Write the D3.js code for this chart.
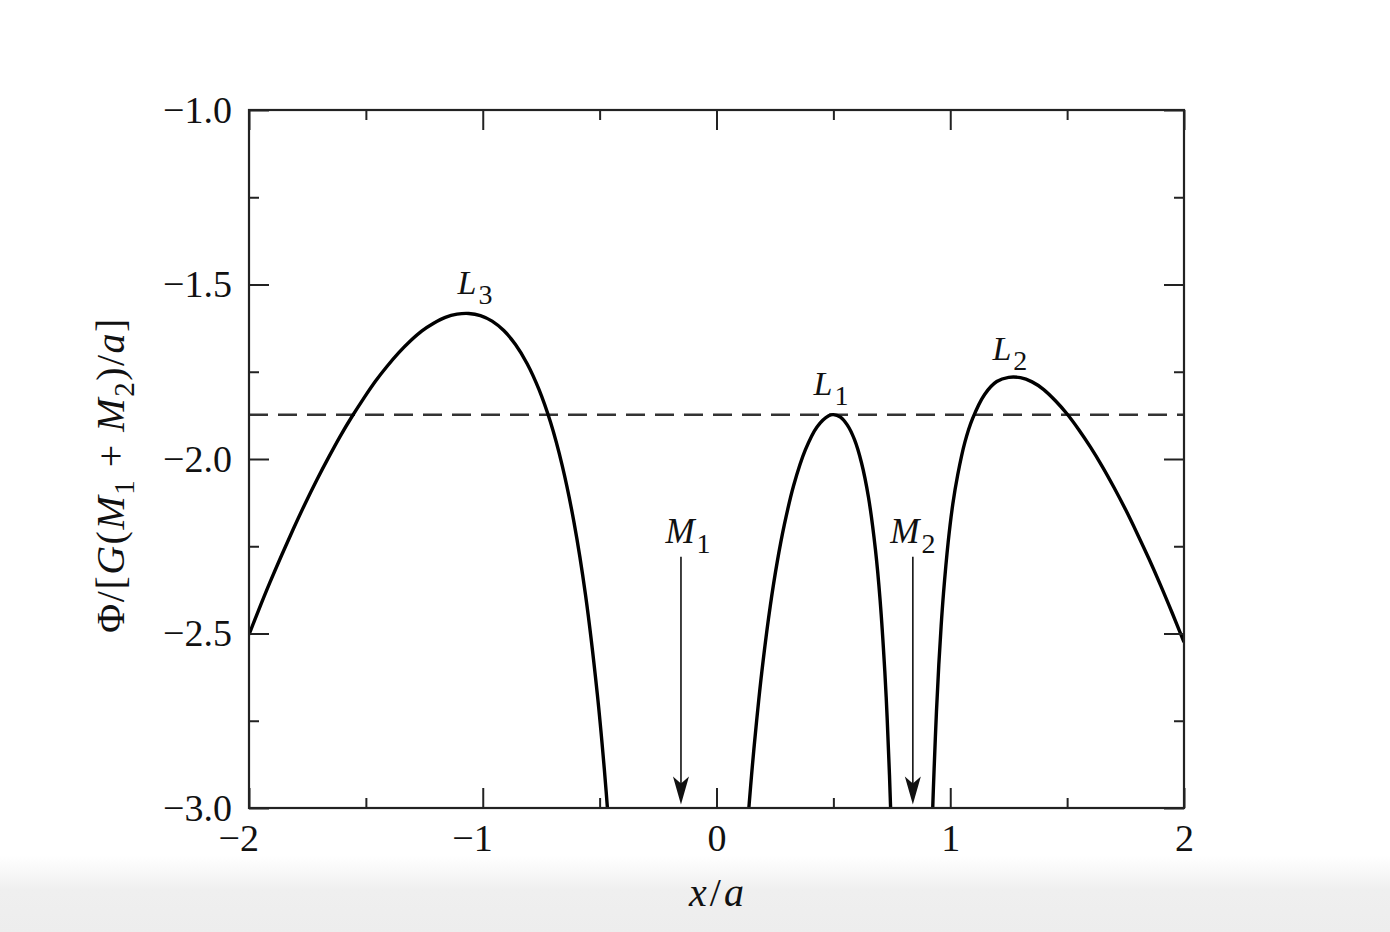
<!DOCTYPE html>
<html>
<head>
<meta charset="utf-8">
<script src="https://cdn.jsdelivr.net/npm/d3@7"></script>
<style>
  body { margin: 0; background: #fff; }
  text { font-family: "Liberation Serif", "Times New Roman", serif; fill: #111; }
</style>
</head>
<body>
<svg id="chart" width="1390" height="932"></svg>
<script>
// ---------------- data ----------------
const xDomain = [-2, 2];
const yDomain = [-3, -1];
const xMajorTicks = [-2, -1, 0, 1, 2];
const xMinorTicks = [-1.5, -0.5, 0.5, 1.5];
const xTickLabels = ["\u22122", "\u22121", "0", "1", "2"];
const yMajorTicks = [-1.0, -1.5, -2.0, -2.5, -3.0];
const yMinorTicks = [-1.25, -1.75, -2.25, -2.75];
const yTickLabels = ["\u22121.0", "\u22121.5", "\u22122.0", "\u22122.5", "\u22123.0"];

// potential curve, three visible lobes: [x/a, Phi]
const lobeL3 = [[-2.00,-2.503],[-1.96,-2.435],[-1.91,-2.353],[-1.86,-2.275],[-1.81,-2.200],[-1.76,-2.128],
  [-1.71,-2.060],[-1.66,-1.996],[-1.61,-1.935],[-1.56,-1.879],[-1.51,-1.827],[-1.46,-1.778],
  [-1.41,-1.735],[-1.36,-1.696],[-1.31,-1.662],[-1.26,-1.633],[-1.21,-1.611],[-1.16,-1.594],
  [-1.11,-1.585],[-1.06,-1.583],[-1.01,-1.589],[-0.96,-1.605],[-0.91,-1.632],[-0.86,-1.672],
  [-0.81,-1.727],[-0.76,-1.800],[-0.71,-1.895],[-0.66,-2.019],[-0.61,-2.180],[-0.56,-2.391],
  [-0.51,-2.673],[-0.48,-2.888],[-0.46,-3.058]];
const lobeL1 = [[0.135,-3.030],[0.14,-2.987],[0.15,-2.906],[0.16,-2.831],[0.18,-2.695],[0.20,-2.575],
  [0.23,-2.421],[0.26,-2.294],[0.29,-2.189],[0.33,-2.076],[0.38,-1.974],[0.43,-1.908],[0.48,-1.876],
  [0.50,-1.873],[0.53,-1.880],[0.56,-1.903],[0.59,-1.944],[0.62,-2.010],[0.65,-2.109],[0.68,-2.260],
  [0.70,-2.405],[0.72,-2.608],[0.73,-2.741],[0.74,-2.905],[0.75,-3.110]];
const lobeL2 = [[0.921,-3.09],[0.926,-2.98],[0.931,-2.888],[0.941,-2.724],[0.951,-2.590],[0.961,-2.479],
  [0.971,-2.386],[0.991,-2.239],[1.011,-2.129],[1.032,-2.045],[1.063,-1.951],[1.095,-1.885],
  [1.147,-1.815],[1.199,-1.778],[1.25,-1.766],[1.30,-1.767],[1.35,-1.779],[1.40,-1.801],[1.45,-1.833],
  [1.50,-1.871],[1.55,-1.916],[1.60,-1.966],[1.65,-2.021],[1.70,-2.081],[1.75,-2.145],[1.80,-2.214],
  [1.85,-2.286],[1.90,-2.362],[1.95,-2.442],[2.00,-2.525]];
const dashedLevel = -1.873;

const massNames = ["M", "M"];
const massSubs = ["1", "2"];
const massX = [-0.152, 0.840];
const arrowTop = -2.28;
const arrowTip = -2.99;
const massLabelX = [-0.122, 0.84];
const massLabelY = -2.241;

const lagNames = ["L", "L", "L"];
const lagSubs = ["3", "1", "2"];
const lagX = [-1.033, 0.49, 1.255];
const lagY = [-1.527, -1.817, -1.716];

(function () {
// ---------------- layout ----------------
const svg = d3.select("#chart");
const W = 1390, H = 932;
const pL = 249, pR = 1184, pT = 110, pB = 808;
const x = d3.scaleLinear(xDomain, [pL, pR]);
const y = d3.scaleLinear(yDomain, [pB, pT]);
const FS = 38;

// bottom gray band
const defs = svg.append("defs");
const grad = defs.append("linearGradient").attr("id", "band").attr("x1", 0).attr("y1", 0).attr("x2", 0).attr("y2", 1);
grad.append("stop").attr("offset", "0").attr("stop-color", "#ffffff");
grad.append("stop").attr("offset", "0.45").attr("stop-color", "#efefef");
grad.append("stop").attr("offset", "1").attr("stop-color", "#ededed");
svg.append("rect").attr("x", 0).attr("y", 856).attr("width", W).attr("height", H - 856).attr("fill", "url(#band)");

defs.append("clipPath").attr("id", "plotclip").append("rect")
  .attr("x", pL).attr("y", pT).attr("width", pR - pL).attr("height", pB - pT);

// dashed level
svg.append("line")
  .attr("x1", x(xDomain[0])).attr("x2", x(xDomain[1]))
  .attr("y1", y(dashedLevel)).attr("y2", y(dashedLevel))
  .attr("stroke", "#333").attr("stroke-width", 2.4).attr("stroke-dasharray", "19,10");

// curves
const line = d3.line().x(d => x(d[0])).y(d => y(d[1])).curve(d3.curveCatmullRom.alpha(0.5));
const gCurves = svg.append("g").attr("clip-path", "url(#plotclip)");
[lobeL3, lobeL1, lobeL2].forEach(seg => {
  gCurves.append("path").attr("d", line(seg)).attr("fill", "none")
    .attr("stroke", "#000").attr("stroke-width", 3.4).attr("stroke-linejoin", "round");
});

// axes ticks (inward, mirrored)
function styleAxis(g) {
  g.select(".domain").remove();
  g.selectAll(".tick line").attr("stroke", "#222").attr("stroke-width", 2);
  g.selectAll("text").attr("font-family", "Liberation Serif").attr("font-size", FS).attr("fill", "#111");
}
const bx = svg.append("g").attr("transform", `translate(0,${pB})`)
  .call(d3.axisBottom(x).tickValues(xMajorTicks).tickSizeInner(-20).tickSizeOuter(0).tickPadding(16)
    .tickFormat((d, i) => xTickLabels[i]));
styleAxis(bx);
const probe = svg.append("text").attr("font-family", "Liberation Serif").attr("font-size", FS).text("\u2212");
const minusW = probe.node().getComputedTextLength();
probe.remove();
bx.selectAll(".tick text").each(function (d) {
  if (d < 0) d3.select(this).attr("dx", -minusW / 2);
});
const bxm = svg.append("g").attr("transform", `translate(0,${pB})`)
  .call(d3.axisBottom(x).tickValues(xMinorTicks).tickSizeInner(-10).tickSizeOuter(0).tickFormat(""));
styleAxis(bxm);
const tx = svg.append("g").attr("transform", `translate(0,${pT})`)
  .call(d3.axisTop(x).tickValues(xMajorTicks).tickSizeInner(-20).tickSizeOuter(0).tickFormat(""));
styleAxis(tx);
const txm = svg.append("g").attr("transform", `translate(0,${pT})`)
  .call(d3.axisTop(x).tickValues(xMinorTicks).tickSizeInner(-10).tickSizeOuter(0).tickFormat(""));
styleAxis(txm);

const ly = svg.append("g").attr("transform", `translate(${pL},0)`)
  .call(d3.axisLeft(y).tickValues(yMajorTicks).tickSizeInner(-20).tickSizeOuter(0).tickPadding(17)
    .tickFormat((d, i) => yTickLabels[i]));
styleAxis(ly);
const lym = svg.append("g").attr("transform", `translate(${pL},0)`)
  .call(d3.axisLeft(y).tickValues(yMinorTicks).tickSizeInner(-10).tickSizeOuter(0).tickFormat(""));
styleAxis(lym);
const ry = svg.append("g").attr("transform", `translate(${pR},0)`)
  .call(d3.axisRight(y).tickValues(yMajorTicks).tickSizeInner(-20).tickSizeOuter(0).tickFormat(""));
styleAxis(ry);
const rym = svg.append("g").attr("transform", `translate(${pR},0)`)
  .call(d3.axisRight(y).tickValues(yMinorTicks).tickSizeInner(-10).tickSizeOuter(0).tickFormat(""));
styleAxis(rym);

// frame
svg.append("rect").attr("x", pL).attr("y", pT).attr("width", pR - pL).attr("height", pB - pT)
  .attr("fill", "none").attr("stroke", "#222").attr("stroke-width", 2.2);

// arrows for the masses
massX.forEach((mx, i) => {
  const px = x(mx), y0 = y(arrowTop), y1 = y(arrowTip);
  svg.append("line").attr("x1", px).attr("x2", px).attr("y1", y0).attr("y2", y1 - 10)
    .attr("stroke", "#111").attr("stroke-width", 1.6);
  svg.append("path")
    .attr("d", `M${px},${y1} L${px - 8},${y1 - 28} L${px},${y1 - 21} L${px + 8},${y1 - 28} Z`)
    .attr("fill", "#111");
});

// label helper: italic letter + upright subscript
function subLabel(px, py, main, sub, fs, subfs) {
  const t = svg.append("text").attr("x", px).attr("y", py).attr("text-anchor", "middle").attr("font-size", fs);
  t.append("tspan").attr("font-style", "italic").text(main);
  t.append("tspan").attr("font-size", subfs).attr("dy", 10).attr("dx", 2).text(sub);
  return t;
}
massX.forEach((mx, i) => subLabel(x(massLabelX[i]), y(massLabelY), massNames[i], massSubs[i], 35, 28));
lagX.forEach((lx, i) => subLabel(x(lx), y(lagY[i]), lagNames[i], lagSubs[i], 34, 28));

// axis titles
const xt = svg.append("text").attr("x", x(0)).attr("y", 906).attr("text-anchor", "middle").attr("font-size", 40);
xt.append("tspan").attr("font-style", "italic").text("x");
xt.append("tspan").attr("dx", 3).text("/");
xt.append("tspan").attr("dx", 3).attr("font-style", "italic").text("a");

const yt = svg.append("text").attr("transform", "translate(124,475) rotate(-90)")
  .attr("text-anchor", "middle").attr("font-size", 40).attr("letter-spacing", 1.5);
yt.append("tspan").text("\u03A6/[");
yt.append("tspan").attr("font-style", "italic").text("G");
yt.append("tspan").text("(");
yt.append("tspan").attr("font-style", "italic").text("M");
yt.append("tspan").attr("font-size", 29).attr("dy", 10).text("1");
yt.append("tspan").attr("dy", -10).text(" + ");
yt.append("tspan").attr("font-style", "italic").text("M");
yt.append("tspan").attr("font-size", 29).attr("dy", 10).text("2");
yt.append("tspan").attr("dy", -10).text(")/");
yt.append("tspan").attr("font-style", "italic").text("a");
yt.append("tspan").text("]");
})();
</script>
</body>
</html>
